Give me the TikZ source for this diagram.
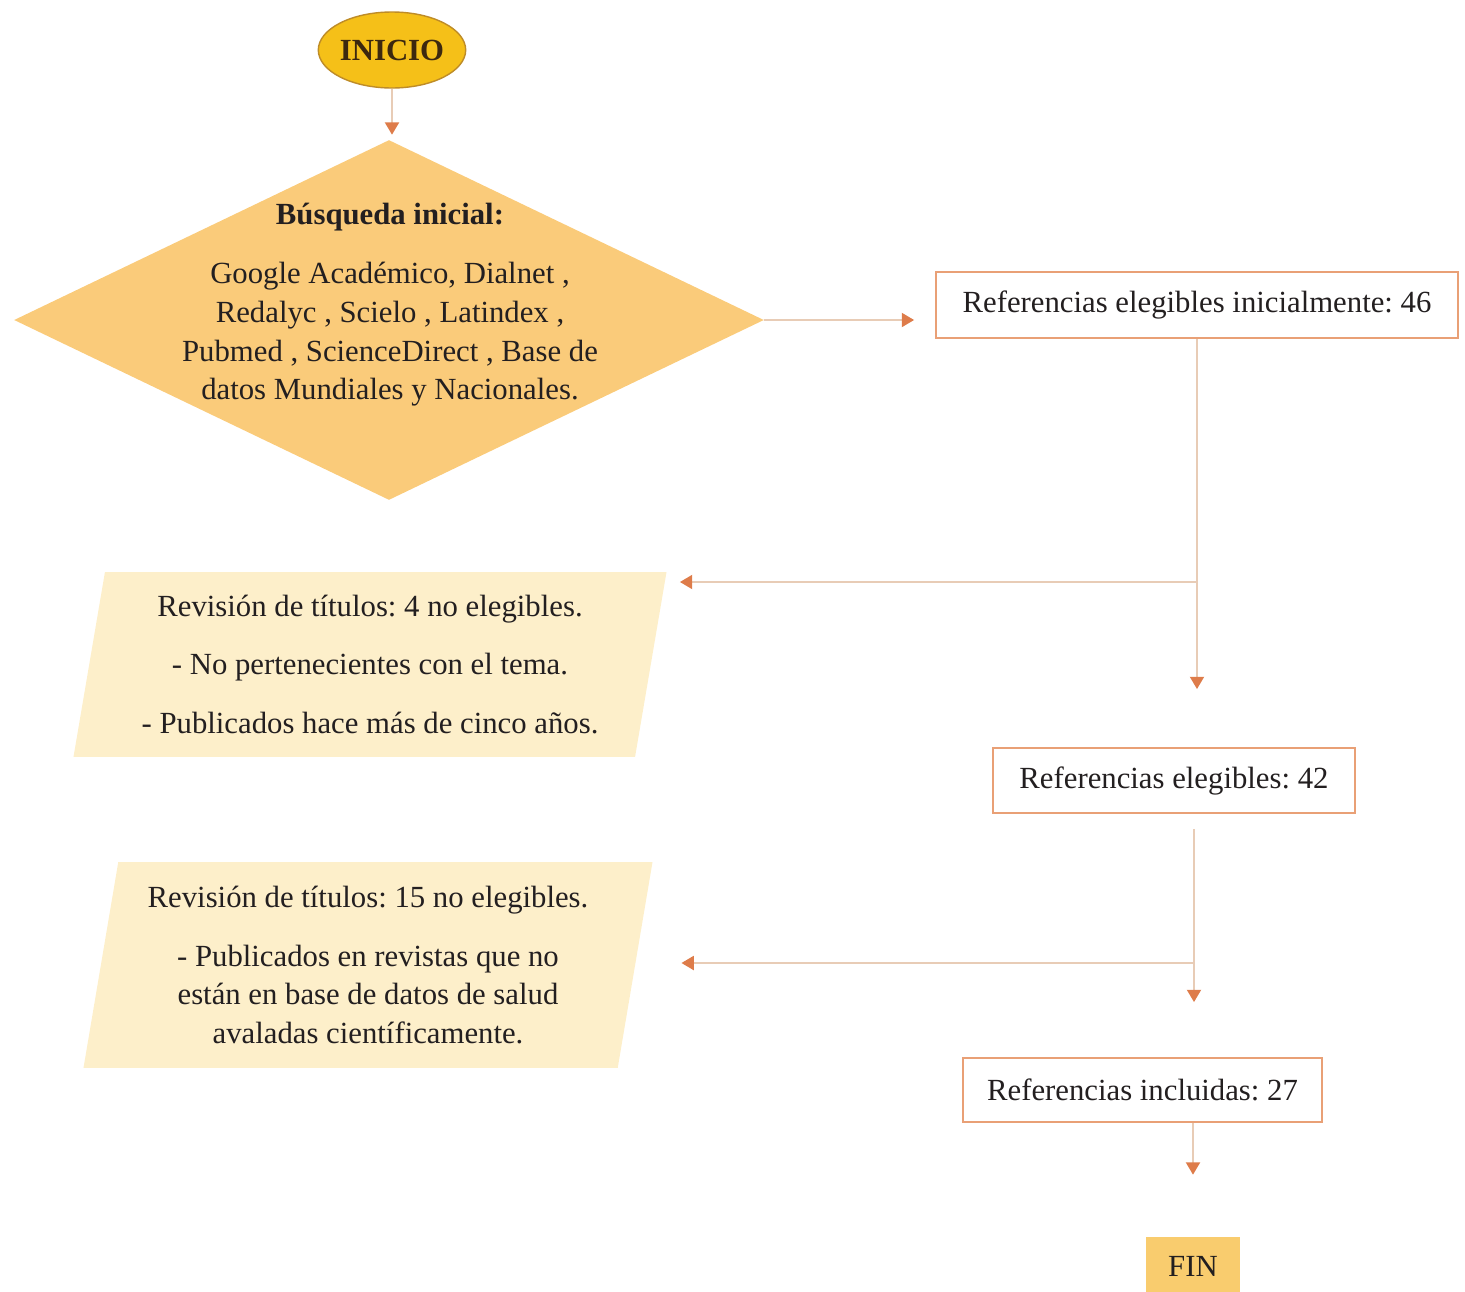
\documentclass[tikz,border=0pt]{standalone}
\usepackage{fontspec}
\setmainfont{Liberation Serif}
\usetikzlibrary{shapes.geometric,arrows.meta}
\definecolor{inicioc}{RGB}{245,192,24}
\definecolor{iniciob}{RGB}{190,140,40}
\definecolor{iniciot}{RGB}{60,40,15}
\definecolor{busqc}{RGB}{250,203,122}
\definecolor{revc}{RGB}{253,239,202}
\definecolor{boxc}{RGB}{233,160,118}
\definecolor{connc}{RGB}{232,204,182}
\definecolor{tipc}{RGB}{222,124,74}
\definecolor{finc}{RGB}{249,204,110}
\definecolor{textc}{RGB}{35,31,32}
\frenchspacing
\begin{document}
\begin{tikzpicture}[x=0.02cm,y=-0.02cm,
    every node/.style={font=\fontsize{17.5}{22}\selectfont, text=textc},
    refbox/.style={draw=boxc, line width=1.1pt, fill=white, inner sep=0pt},
    revbox/.style={trapezium, trapezium left angle=79, trapezium right angle=101,
        trapezium stretches=true, fill=revc, align=center, inner sep=0pt},
    conn/.style={draw=connc, line width=1pt, -{Triangle[width=8pt,length=7pt,color=tipc]}}]
    \useasboundingbox (0,0) rectangle (1465,1292);

    \node[ellipse, fill=inicioc, draw=iniciob, line width=0.8pt, minimum width=2.8cm,
        minimum height=1.52cm, inner sep=0pt, text=iniciot,
        font=\bfseries\fontsize{17.5}{22}\selectfont] (inicio) at (392,50) {INICIO};
    \node[diamond, fill=busqc, minimum width=15cm, minimum height=7.2cm, inner sep=0pt] (busq) at (389,320) {};
    \node[align=center] (busqtxt) at (390,305) {\textbf{Búsqueda inicial:}\\[11.5pt]
        Google Académico, Dialnet ,\\ Redalyc , Scielo , Latindex ,\\
        Pubmed , ScienceDirect , Base de\\ datos Mundiales y Nacionales.};
    \node[refbox, minimum width=10.44cm, minimum height=1.32cm] (ref1) at (1197,305) {Referencias elegibles inicialmente: 46};
    \node[revbox, minimum width=11.88cm, minimum height=3.7cm] (rev1) at (370,664.5) {Revisión de títulos: 4 no elegibles.\\[11.5pt]
        - No pertenecientes con el tema.\\[11.5pt] - Publicados hace más de cinco años.};
    \node[refbox, minimum width=7.24cm, minimum height=1.3cm] (ref2) at (1174,780.5) {Referencias elegibles: 42};
    \node[revbox, minimum width=11.4cm, minimum height=4.12cm] (rev2) at (368,965) {Revisión de títulos: 15 no elegibles.\\[11.5pt]
        - Publicados en revistas que no\\ están en base de datos de salud\\ avaladas científicamente.};
    \node[refbox, minimum width=7.18cm, minimum height=1.28cm] (ref3) at (1142.5,1090) {Referencias incluidas: 27};
    \node[fill=finc, minimum width=1.88cm, minimum height=1.16cm, inner sep=0pt] (fin) at (1193,1266) {FIN};

    \coordinate (br1) at (1197,582);
    \coordinate (br2) at (1194,963);
    \draw[conn, shorten >=0.1cm] (inicio.south) -- (inicio.south |- busq.north);
    \draw[conn, shorten >=0.42cm] (busq.east) -- (busq.east -| ref1.west);
    \draw[conn, shorten >=1.16cm] (ref1.south) -- (ref1.south |- ref2.north);
    \draw[conn, shorten >=0.26cm] (br1) -- (br1 -| rev1.top right corner);
    \draw[conn, shorten <=0.3cm, shorten >=1.1cm] (ref2.south -| br2) -- (br2 |- ref3.north);
    \draw[conn, shorten >=0.92cm] (br2) -- (br2 -| rev2.east);
    \draw[conn, shorten >=1.24cm] (fin.north |- ref3.south) -- (fin.north);
\end{tikzpicture}
\end{document}
